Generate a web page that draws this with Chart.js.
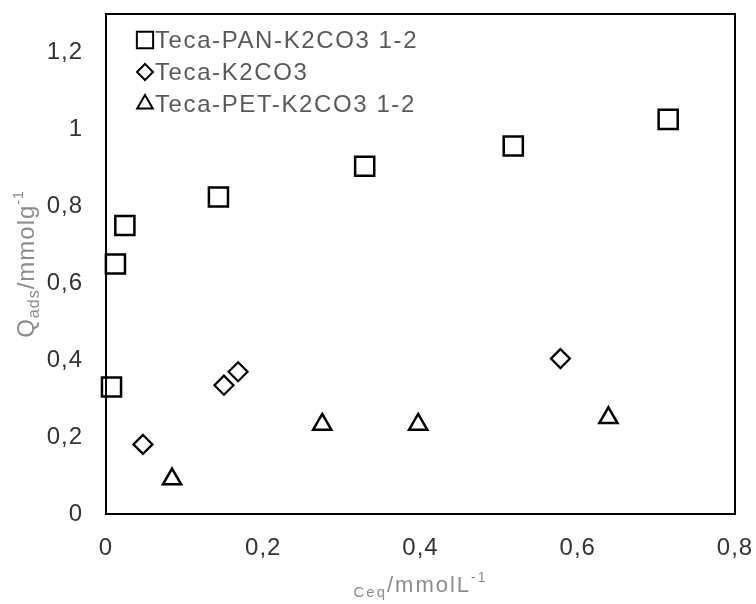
<!DOCTYPE html>
<html><head><meta charset="utf-8">
<script src="https://cdn.jsdelivr.net/npm/chart.js@4/dist/chart.umd.min.js"></script>
<style>html,body{margin:0;padding:0;background:#fff;}</style>
</head><body>
<canvas id="c" width="756" height="604"></canvas>
<script>
// ---- data ----
const seriesNames = ['Teca-PAN-K2CO3 1-2', 'Teca-K2CO3', 'Teca-PET-K2CO3 1-2'];
const seriesStyles = ['rect', 'rectRot', 'triangle'];
const panX = [0.007, 0.012, 0.024, 0.143, 0.329, 0.518, 0.715];
const panY = [0.330, 0.650, 0.750, 0.824, 0.904, 0.957, 1.026];
const k2X = [0.047, 0.150, 0.168, 0.578];
const k2Y = [0.181, 0.335, 0.370, 0.404];
const petX = [0.084, 0.275, 0.397, 0.639];
const petY = [0.091, 0.233, 0.233, 0.250];
const xTickValues = [0, 0.2, 0.4, 0.6, 0.8];
const yTickValues = [0, 0.2, 0.4, 0.6, 0.8, 1, 1.2];
const xTitleParts = [{t: 'Ceq', s: 15, dy: 5}, {t: '/mmolL', s: 22, dy: 0}, {t: '-1', s: 14, dy: -10}];
const yTitleParts = [{t: 'Q', s: 24, dy: 0}, {t: 'ads', s: 16, dy: 5}, {t: '/mmolg', s: 24, dy: 0}, {t: '-1', s: 14, dy: -11}];

const FONT = '"Liberation Sans", Arial, sans-serif';
const toPts = (xs, ys) => xs.map((x, i) => ({x: x, y: ys[i]}));
const fmt = v => Number(Number(v).toFixed(1)).toString().replace('.', ',');

const pointRadius = [13.5, 9.5, 10.5];
const legendRadius = [11.5, 8, 9];
const datasets = [
  toPts(panX, panY), toPts(k2X, k2Y), toPts(petX, petY)
].map((d, i) => ({
  label: seriesNames[i],
  data: d,
  showLine: false,
  pointStyle: seriesStyles[i],
  pointRadius: pointRadius[i],
  pointHoverRadius: pointRadius[i],
  pointBorderWidth: i === 1 ? 2.2 : 2.5,
  pointBorderColor: '#000',
  pointBackgroundColor: 'rgba(0,0,0,0)',
  clip: false
}));

function drawRich(ctx, parts, spacing) {
  let total = 0;
  parts.forEach(p => { ctx.font = p.s + 'px ' + FONT; ctx.letterSpacing = spacing + 'px'; p.w = ctx.measureText(p.t).width; total += p.w; });
  let x = -total / 2;
  parts.forEach(p => { ctx.font = p.s + 'px ' + FONT; ctx.letterSpacing = spacing + 'px'; ctx.fillText(p.t, x, p.dy); x += p.w; });
}

const spacingPlugin = {
  id: 'spacing',
  beforeDraw(chart) { chart.ctx.letterSpacing = '1px'; }
};

const framePlugin = {
  id: 'frame',
  beforeDatasetsDraw(chart) {
    const a = chart.chartArea, ctx = chart.ctx;
    ctx.save();
    ctx.strokeStyle = '#000';
    ctx.lineWidth = 2;
    ctx.strokeRect(a.left, a.top, a.right - a.left, a.bottom - a.top);
    ctx.restore();
  }
};

const legendTitlePlugin = {
  id: 'legendTitles',
  afterDraw(chart) {
    const a = chart.chartArea, ctx = chart.ctx;
    ctx.save();
    // legend
    chart.data.datasets.forEach((ds, i) => {
      const cy = a.top + 26 + i * 32;
      const cx = a.left + 39;
      ctx.strokeStyle = '#000';
      ctx.fillStyle = 'rgba(0,0,0,0)';
      ctx.lineWidth = 2;
      Chart.helpers.drawPoint(ctx, {pointStyle: ds.pointStyle, radius: legendRadius[i], rotation: 0, borderWidth: 2}, cx, cy);
      ctx.fillStyle = '#595959';
      ctx.font = '24px ' + FONT;
      ctx.letterSpacing = '1.6px';
      ctx.textAlign = 'left';
      ctx.textBaseline = 'middle';
      ctx.fillText(ds.label, cx + 10, cy + 1);
    });
    // axis titles
    ctx.fillStyle = '#8c8c8c';
    ctx.textAlign = 'left';
    ctx.textBaseline = 'alphabetic';
    ctx.save();
    ctx.translate((a.left + a.right) / 2, 592);
    drawRich(ctx, xTitleParts, 2);
    ctx.restore();
    ctx.save();
    ctx.translate(34, (a.top + a.bottom) / 2);
    ctx.rotate(-Math.PI / 2);
    drawRich(ctx, yTitleParts, 1);
    ctx.restore();
    ctx.restore();
  }
};

new Chart(document.getElementById('c'), {
  type: 'scatter',
  data: {datasets: datasets},
  options: {
    responsive: false,
    animation: false,
    devicePixelRatio: 1,
    layout: {padding: {top: 14, right: 21, left: 0, bottom: 0}, autoPadding: false},
    plugins: {legend: {display: false}, tooltip: {enabled: false}, title: {display: false}},
    scales: {
      x: {
        type: 'linear', min: 0, max: 0.8,
        afterFit: s => { s.height = 90; s.paddingLeft = 0; s.paddingRight = 0; s.paddingTop = 0; s.paddingBottom = 0; },
        afterBuildTicks: s => { s.ticks = xTickValues.map(v => ({value: v})); },
        grid: {display: false, drawTicks: false},
        border: {display: false},
        ticks: {padding: 20, color: '#333', font: {size: 24, family: FONT}, callback: fmt, maxRotation: 0}
      },
      y: {
        type: 'linear', min: 0, max: 1.3,
        afterFit: s => { s.width = 106; s.paddingLeft = 0; s.paddingRight = 0; s.paddingTop = 0; s.paddingBottom = 0; },
        afterBuildTicks: s => { s.ticks = yTickValues.map(v => ({value: v})); },
        grid: {display: false, drawTicks: false},
        border: {display: false},
        ticks: {padding: 23, color: '#333', font: {size: 24, family: FONT}, callback: fmt}
      }
    }
  },
  plugins: [spacingPlugin, framePlugin, legendTitlePlugin]
});
</script>
</body></html>
